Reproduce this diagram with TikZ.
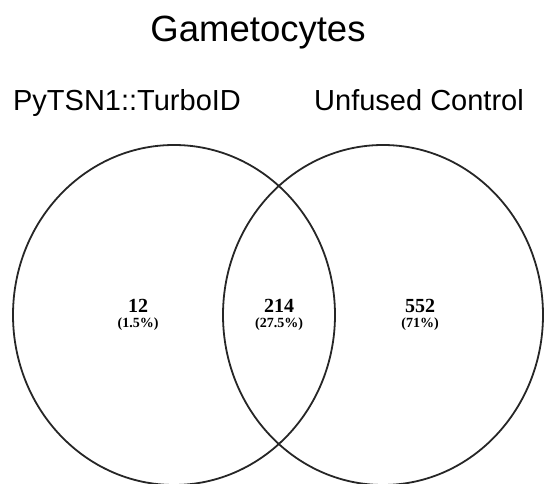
\documentclass[tikz,border=0pt]{standalone}
\usepackage{fontspec}
\setmainfont{Liberation Sans}
\newfontfamily\numfont{Liberation Serif}
\begin{document}
\begin{tikzpicture}[x=1pt,y=1pt,
  settitle/.style={anchor=base,inner sep=0pt,font=\fontsize{36.5}{40}\selectfont},
  setname/.style={anchor=base,inner sep=0pt,font=\fontsize{29}{33}\selectfont},
  setring/.style={draw=black!85,line width=1.8pt},
  count/.style={anchor=base,inner sep=0pt,font=\numfont\bfseries\fontsize{20}{22}\selectfont},
  share/.style={anchor=base,inner sep=0pt,font=\numfont\bfseries\fontsize{14}{16}\selectfont}]
  \useasboundingbox (0,0) rectangle (544,484);

  % the two sets
  \draw[setring] (174,169) ellipse [x radius=161, y radius=170];
  \draw[setring] (383,169) ellipse [x radius=160, y radius=170];

  % headings
  \node[settitle] (title) at (258,442) {Gametocytes};
  \node[setname] (nameA) at (127,373) {PyTSN1::TurboID};
  \node[setname] (nameB) at (419,373) {Unfused Control};

  % region counts
  \node[count] (onlyA) at (138,171) {12};
  \node[share] (onlyAp) at (138,156) {(1.5\%)};
  \node[count] (both) at (279,171) {214};
  \node[share] (bothp) at (279,156) {(27.5\%)};
  \node[count] (onlyB) at (420,171) {552};
  \node[share] (onlyBp) at (420,156) {(71\%)};
\end{tikzpicture}
\end{document}
